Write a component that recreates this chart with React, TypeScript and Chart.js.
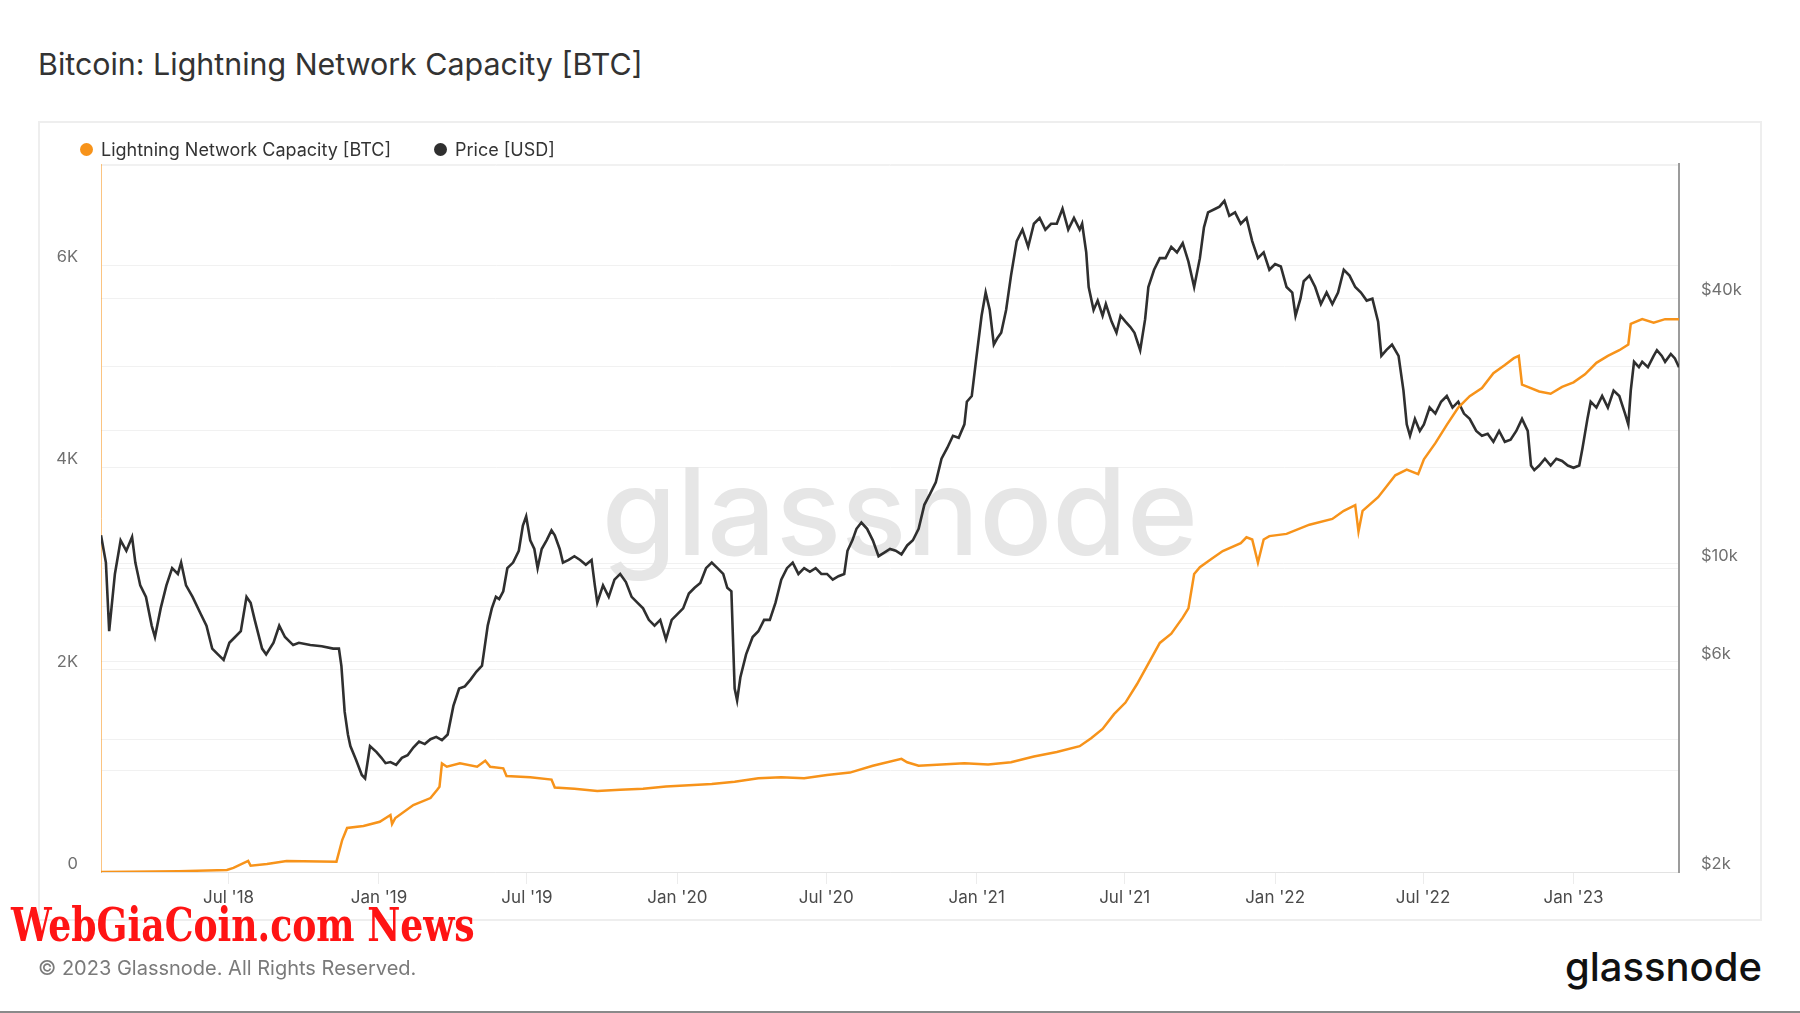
import React, { useEffect, useRef } from 'react';
import { Chart, registerables } from 'chart.js';

Chart.register(...registerables);

// x values are days since 2018-01-01
const capacitySeries: [number, number][] = [
  [25, 0], [60, 3], [120, 8], [179, 20], [187, 40], [205, 109], [208, 62], [228, 79], [252, 109],
  [313, 102], [320, 316], [326, 435], [346, 455], [366, 497], [379, 564], [381, 475], [385, 534],
  [407, 662], [428, 731], [436, 811], [439, 843], [442, 1074], [448, 1041], [464, 1074], [485, 1041],
  [495, 1100], [501, 1041], [517, 1025], [521, 949], [550, 936], [576, 914], [580, 835], [604, 824],
  [632, 801], [660, 812], [688, 824], [716, 846], [744, 858], [772, 869], [800, 892], [829, 926],
  [857, 937], [885, 926], [913, 960], [941, 983], [969, 1051], [1004, 1119], [1011, 1085], [1025, 1051],
  [1053, 1062], [1081, 1074], [1110, 1062], [1138, 1085], [1166, 1142], [1194, 1187], [1222, 1244],
  [1236, 1323], [1250, 1414], [1264, 1561], [1278, 1675], [1292, 1856], [1306, 2061], [1320, 2265],
  [1334, 2356], [1348, 2515], [1355, 2606], [1362, 2946], [1369, 3014], [1383, 3094], [1397, 3173],
  [1419, 3252], [1426, 3309], [1433, 3287], [1440, 3060], [1447, 3287], [1454, 3321], [1475, 3343],
  [1503, 3434], [1531, 3491], [1545, 3571], [1559, 3627], [1563, 3366], [1568, 3571], [1587, 3706],
  [1608, 3922], [1622, 3979], [1636, 3933], [1643, 4081], [1657, 4240], [1671, 4421], [1685, 4592],
  [1699, 4705], [1714, 4785], [1728, 4932], [1742, 5012], [1753, 5080], [1759, 5102], [1763, 4819],
  [1770, 4796], [1784, 4751], [1798, 4728], [1812, 4796], [1826, 4841], [1840, 4921], [1854, 5034],
  [1868, 5102], [1882, 5159], [1893, 5216], [1896, 5420], [1910, 5466], [1924, 5432], [1938, 5466],
  [1955, 5466],
];

const priceSeries: [number, number][] = [
  [25, 11600], [31, 10060], [35, 7030], [42, 9480], [49, 11300], [56, 10700], [63, 11500], [67, 10060],
  [73, 8930], [80, 8410], [87, 7240], [91, 6820], [98, 7920], [105, 8930], [112, 9770], [119, 9480],
  [123, 10060], [129, 8930], [137, 8410], [147, 7690], [154, 7240], [161, 6420], [168, 6230], [175, 6050],
  [182, 6620], [189, 6820], [196, 7030], [203, 8410], [208, 8160], [213, 7460], [222, 6420], [227, 6230],
  [236, 6620], [243, 7240], [250, 6820], [260, 6540], [267, 6620], [281, 6540], [295, 6500], [309, 6420],
  [316, 6420], [319, 5870], [323, 4620], [327, 4100], [330, 3860], [337, 3590], [344, 3320], [348, 3260],
  [354, 3860], [362, 3740], [368, 3630], [373, 3530], [379, 3550], [386, 3500], [393, 3630], [400, 3680],
  [407, 3830], [414, 3950], [421, 3900], [428, 4000], [435, 4050], [442, 3980], [449, 4100], [456, 4760],
  [463, 5210], [470, 5270], [477, 5460], [484, 5690], [491, 5870], [498, 7240], [503, 7920], [508, 8410],
  [512, 8310], [517, 8660], [522, 9770], [529, 10060], [536, 10700], [541, 12200], [545, 12800],
  [550, 11300], [555, 10800], [559, 9770], [564, 10800], [570, 11300], [576, 11900], [580, 11600],
  [586, 10800], [590, 10060], [597, 10200], [604, 10400], [611, 10200], [618, 9950], [625, 10200],
  [629, 8930], [632, 8160], [639, 8930], [646, 8410], [653, 9200], [660, 9480], [667, 9090], [674, 8410],
  [681, 8160], [688, 7920], [695, 7460], [702, 7240], [709, 7460], [716, 6740], [723, 7460], [730, 7690],
  [737, 7920], [744, 8560], [751, 8820], [758, 9040], [765, 9770], [772, 10060], [779, 9770], [786, 9480],
  [791, 8820], [796, 8660], [800, 5210], [803, 4900], [807, 5530], [814, 6230], [822, 6820], [829, 7030],
  [836, 7460], [843, 7460], [850, 8160], [857, 9200], [864, 9770], [871, 10060], [878, 9480], [885, 9770],
  [892, 9590], [899, 9770], [906, 9480], [913, 9480], [920, 9200], [927, 9370], [934, 9480], [938, 10700],
  [944, 11300], [949, 12000], [955, 12400], [962, 12000], [969, 11300], [976, 10400], [983, 10600],
  [990, 10800], [997, 10700], [1004, 10500], [1011, 11000], [1018, 11300], [1025, 12000], [1032, 13600],
  [1039, 14400], [1046, 15300], [1053, 17300], [1060, 18300], [1067, 19500], [1074, 19300], [1081, 20700],
  [1084, 23300], [1090, 24000], [1095, 28700], [1102, 36500], [1107, 41200], [1112, 37600], [1117, 31400],
  [1121, 32400], [1126, 33400], [1132, 37600], [1138, 45000], [1145, 53900], [1152, 57200], [1159, 52300],
  [1166, 59000], [1173, 60800], [1180, 57200], [1187, 59000], [1194, 59000], [1201, 63800], [1208, 57200],
  [1215, 60800], [1222, 57200], [1225, 59000], [1230, 50800], [1233, 42400], [1239, 37600], [1244, 39500],
  [1250, 36500], [1254, 38800], [1261, 35400], [1267, 33400], [1272, 36500], [1278, 35400], [1284, 34400],
  [1289, 33400], [1296, 30500], [1302, 35800], [1306, 42400], [1313, 46400], [1320, 49300], [1327, 49300],
  [1334, 52300], [1341, 50800], [1348, 53300], [1355, 48400], [1362, 42400], [1369, 49300], [1374, 57900],
  [1379, 62600], [1388, 63800], [1393, 64500], [1399, 66500], [1405, 61500], [1412, 62600], [1419, 59000],
  [1426, 60800], [1433, 53900], [1440, 49300], [1447, 50800], [1454, 46400], [1461, 47800], [1468, 47200],
  [1475, 42400], [1482, 41200], [1486, 36500], [1492, 39900], [1496, 43700], [1503, 45000], [1510, 42400],
  [1517, 38800], [1524, 41200], [1531, 38800], [1538, 41200], [1545, 46400], [1552, 45000], [1559, 42400],
  [1566, 41200], [1573, 39500], [1580, 39900], [1587, 35400], [1591, 29600], [1597, 30500], [1604, 31400],
  [1612, 29600], [1618, 24700], [1622, 20700], [1626, 19500], [1632, 21300], [1638, 20000], [1643, 20700],
  [1650, 22600], [1657, 21900], [1664, 23300], [1671, 24000], [1678, 22600], [1685, 23300], [1692, 21900],
  [1699, 21300], [1707, 20000], [1714, 19500], [1721, 19700], [1728, 18900], [1735, 20000], [1742, 18900],
  [1749, 19100], [1756, 20000], [1763, 21300], [1770, 20000], [1774, 16700], [1778, 16300], [1784, 16700],
  [1791, 17300], [1798, 16700], [1805, 17300], [1812, 17100], [1819, 16700], [1826, 16500], [1833, 16700],
  [1837, 18300], [1843, 21300], [1847, 23300], [1854, 22600], [1861, 24000], [1868, 22600], [1875, 24700],
  [1882, 24000], [1889, 21900], [1893, 20700], [1896, 24700], [1900, 28700], [1906, 27900], [1910, 28700],
  [1917, 27900], [1924, 29600], [1928, 30500], [1934, 29600], [1938, 28700], [1945, 29900], [1950, 29200],
  [1955, 27900],
];

const xTickDays = [181, 365, 546, 730, 912, 1096, 1277, 1461, 1642, 1826];
const xTickLabels = ["Jul '18", "Jan '19", "Jul '19", "Jan '20", "Jul '20", "Jan '21", "Jul '21", "Jan '22", "Jul '22", "Jan '23"];
const capacityTicks = [0, 1000, 2000, 3000, 4000, 5000, 6000, 7000];
const capacityTickLabels = ['0', '', '2K', '', '4K', '', '6K', ''];
const priceTicks = [2000, 4000, 6000, 8000, 10000, 20000, 40000, 80000];
const priceTickLabels = ['$2k', '', '$6k', '', '$10k', '', '$40k', ''];

const ORANGE = '#f7931a';
const DARK = '#2f2f2f';
const FONT = 'Inter, "Noto Sans", sans-serif';

const watermarkPlugin = {
  id: 'gnWatermark',
  beforeDatasetsDraw(chart: any) {
    const ctx = chart.ctx;
    ctx.save();
    ctx.font = '500 121px ' + FONT;
    ctx.fillStyle = '#e6e6e6';
    ctx.textAlign = 'center';
    ctx.textBaseline = 'alphabetic';
    ctx.fillText('glassnode', 862, 434);
    ctx.restore();
  },
};

export default function App() {
  const canvasRef = useRef<HTMLCanvasElement | null>(null);

  useEffect(() => {
    if (!canvasRef.current) return;
    const chart = new Chart(canvasRef.current, {
      type: 'line',
      data: {
        datasets: [
          {
            label: 'Lightning Network Capacity [BTC]',
            data: capacitySeries.map(([x, y]) => ({ x, y })),
            borderColor: ORANGE,
            backgroundColor: ORANGE,
            borderWidth: 2.5,
            pointRadius: 0,
            tension: 0,
            yAxisID: 'yCap',
          },
          {
            label: 'Price [USD]',
            data: priceSeries.map(([x, y]) => ({ x, y })),
            borderColor: DARK,
            backgroundColor: DARK,
            borderWidth: 2.6,
            pointRadius: 0,
            tension: 0,
            yAxisID: 'yPrice',
          },
        ],
      },
      options: {
        animation: false,
        responsive: false,
        layout: { padding: { top: 43, left: 0, right: 0, bottom: 0 } },
        plugins: { legend: { display: false }, tooltip: { enabled: false } },
        scales: {
          x: {
            type: 'linear',
            min: 25,
            max: 1955,
            afterBuildTicks: (s: any) => {
              s.ticks = xTickDays.map((v) => ({ value: v }));
            },
            afterFit: (s: any) => {
              s.height = 49;
            },
            grid: { drawOnChartArea: false, drawTicks: true, tickLength: 12, color: '#ececec' },
            border: { color: '#e3e3e3' },
            ticks: {
              autoSkip: false,
              maxRotation: 0,
              padding: 4,
              color: '#4a4a4a',
              font: { family: FONT, size: 17 },
              callback: (v: any) => {
                const i = xTickDays.indexOf(Number(v));
                return i >= 0 ? xTickLabels[i] : '';
              },
            },
          },
          yCap: {
            type: 'linear',
            position: 'left',
            min: 0,
            max: 7000,
            afterBuildTicks: (s: any) => {
              s.ticks = capacityTicks.map((v) => ({ value: v }));
            },
            afterFit: (s: any) => {
              s.width = 63;
            },
            grid: { color: '#f1f1f1', drawTicks: false },
            border: { color: 'rgba(247,147,26,0.55)' },
            ticks: {
              padding: 23,
              labelOffset: -8,
              color: '#707070',
              font: { family: FONT, size: 16.5 },
              callback: (v: any) => {
                const i = capacityTicks.indexOf(Number(v));
                return i >= 0 ? capacityTickLabels[i] : '';
              },
            },
          },
          yPrice: {
            type: 'logarithmic',
            position: 'right',
            min: 2000,
            max: 80600,
            afterBuildTicks: (s: any) => {
              s.ticks = priceTicks.map((v) => ({ value: v }));
            },
            afterFit: (s: any) => {
              s.width = 83;
            },
            grid: { color: '#f1f1f1', drawTicks: false },
            border: { color: '#9c9c9c', width: 2 },
            ticks: {
              padding: 22,
              labelOffset: -8,
              color: '#707070',
              font: { family: FONT, size: 16.5 },
              callback: (v: any) => {
                const i = priceTicks.indexOf(Number(v));
                return i >= 0 ? priceTickLabels[i] : '';
              },
            },
          },
        },
      },
      plugins: [watermarkPlugin],
    } as any);
    return () => chart.destroy();
  }, []);

  return (
    <div style={{ position: 'fixed', left: 0, top: 0, width: 1800, height: 1013, background: '#fff', fontFamily: FONT, overflow: 'hidden' }}>
      <div style={{ position: 'absolute', left: 38, top: 44, lineHeight: '40px', fontSize: 30.4, color: '#333', whiteSpace: 'nowrap' }}>
        Bitcoin: Lightning Network Capacity [BTC]
      </div>
      <div style={{ position: 'absolute', left: 38, top: 121, width: 1724, height: 800, boxSizing: 'border-box', border: '2px solid #eeeeee' }} />
      <canvas ref={canvasRef} width={1724} height={800} style={{ position: 'absolute', left: 38, top: 121, width: 1724, height: 800 }} />
      <div style={{ position: 'absolute', left: 80, top: 137, height: 24, display: 'flex', alignItems: 'center', fontSize: 18, color: '#333', whiteSpace: 'nowrap' }}>
        <span style={{ width: 13, height: 13, borderRadius: '50%', background: ORANGE, display: 'inline-block', marginRight: 8 }} />
        <span>Lightning Network Capacity [BTC]</span>
        <span style={{ width: 13, height: 13, borderRadius: '50%', background: DARK, display: 'inline-block', marginLeft: 43, marginRight: 8 }} />
        <span>Price [USD]</span>
      </div>
      <div style={{ position: 'absolute', left: 11, top: 897, fontFamily: '"DejaVu Serif", serif', fontStretch: 'condensed', fontWeight: 700, fontSize: 47, lineHeight: '56px', color: '#ff1414', whiteSpace: 'nowrap', transform: 'scaleX(0.855)', transformOrigin: 'left center' }}>
        WebGiaCoin.com News
      </div>
      <div style={{ position: 'absolute', left: 38, top: 954, lineHeight: '28px', fontSize: 20, color: '#7a7a7a', whiteSpace: 'nowrap' }}>
        © 2023 Glassnode. All Rights Reserved.
      </div>
      <div style={{ position: 'absolute', right: 38, top: 942, lineHeight: '50px', fontSize: 40, fontWeight: 500, color: '#111', whiteSpace: 'nowrap' }}>
        glassnode
      </div>
      <div style={{ position: 'absolute', left: 0, top: 1011, width: 1800, height: 2, background: '#8a8a8a' }} />
    </div>
  );
}
